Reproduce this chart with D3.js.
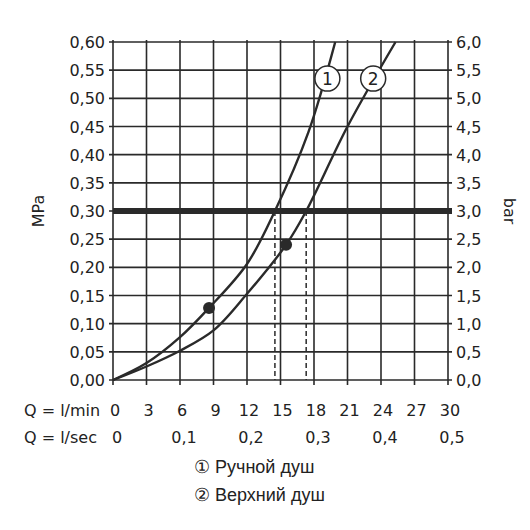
<!DOCTYPE html>
<html><head><meta charset="utf-8">
<script src="https://cdn.jsdelivr.net/npm/d3@7"></script>
<style>body{margin:0;background:#fff}text{fill:#222}</style>
</head><body><svg width="530" height="530"></svg>
<script>
// curve 1: hand shower, curve 2: overhead shower (Q l/min, MPa)
var curve1 = [[0,0],[3,0.03],[6,0.076],[8.6,0.128],[12,0.206],[14.5,0.30],[17.5,0.44],[19.9,0.60]];
var curve2 = [[0,0],[3,0.024],[6,0.052],[9,0.088],[12,0.153],[15.5,0.24],[17.3,0.30],[21,0.45],[25.3,0.60]];
var dots = [[8.6,0.128],[15.5,0.24]];
var dashes = [14.5,17.3];
var mpaTicks = d3.range(0,0.601,0.05);
var minTicks = d3.range(0,31,3);
var secTicks = [0,0.1,0.2,0.3,0.4,0.5];
var legend = ['① Ручной душ','② Верхний душ'];

var svg = d3.select('svg');
var x = d3.scaleLinear().domain([0,30]).range([113,448]);
var y = d3.scaleLinear().domain([0,0.6]).range([380,42]);
var fmt = function(v, d){ return v.toFixed(d).replace('.', ','); };
var ink = '#2a2a2a';

svg.selectAll('.vg').data(minTicks).enter().append('line')
  .attr('x1', d => x(d)).attr('x2', d => x(d)).attr('y1', y(0)).attr('y2', y(0.6) - 2)
  .attr('stroke', ink).attr('stroke-width', 1.6);
svg.selectAll('.hg').data(mpaTicks).enter().append('line')
  .attr('x1', x(0) - 4).attr('x2', x(30) + 4).attr('y1', d => y(d)).attr('y2', d => y(d))
  .attr('stroke', ink).attr('stroke-width', 1.6);
svg.selectAll('.bt').data(minTicks).enter().append('line')
  .attr('x1', d => x(d)).attr('x2', d => x(d)).attr('y1', y(0)).attr('y2', y(0) + 5)
  .attr('stroke', ink).attr('stroke-width', 1.6);

// 3 bar line
svg.append('line').attr('x1', x(0)).attr('x2', x(30) + 4).attr('y1', y(0.3)).attr('y2', y(0.3))
  .attr('stroke', ink).attr('stroke-width', 6);

svg.selectAll('.ds').data(dashes).enter().append('line')
  .attr('x1', d => x(d)).attr('x2', d => x(d)).attr('y1', y(0.3)).attr('y2', y(0))
  .attr('stroke', ink).attr('stroke-width', 1.5).attr('stroke-dasharray', '5,3');

var line = d3.line().x(d => x(d[0])).y(d => y(d[1])).curve(d3.curveCatmullRom);
[curve1, curve2].forEach(function(c){
  svg.append('path').attr('d', line(c)).attr('fill', 'none').attr('stroke', ink).attr('stroke-width', 2.4);
});
svg.selectAll('.dot').data(dots).enter().append('circle')
  .attr('cx', d => x(d[0])).attr('cy', d => y(d[1])).attr('r', 6).attr('fill', ink);

[[19.2,'1'],[23.3,'2']].forEach(function(l){
  svg.append('circle').attr('cx', x(l[0])).attr('cy', y(0.535)).attr('r', 12.5)
    .attr('fill', '#fff').attr('stroke', ink).attr('stroke-width', 1.5);
  svg.append('text').attr('x', x(l[0])).attr('y', y(0.535) + 6).attr('text-anchor', 'middle')
    .attr('font-family', 'DejaVu Sans').attr('font-size', 17).text(l[1]);
});

var f = {'font-family': 'DejaVu Sans', 'font-size': 16};
function styl(s){ for (var k in f) s.attr(k, f[k]); return s; }
styl(svg.selectAll('.ly').data(mpaTicks).enter().append('text')
  .attr('x', x(0) - 8).attr('y', d => y(d) + 6).attr('text-anchor', 'end').text(d => fmt(d, 2)));
styl(svg.selectAll('.ry').data(mpaTicks).enter().append('text')
  .attr('x', x(30) + 8).attr('y', d => y(d) + 6).text(d => fmt(d * 10, 1)));
styl(svg.selectAll('.bx').data(minTicks).enter().append('text')
  .attr('x', d => x(d) + 2).attr('y', 416).attr('text-anchor', 'middle').text(d => d));
styl(svg.selectAll('.sx').data(secTicks).enter().append('text')
  .attr('x', d => x(d * 60) + 4).attr('y', 443).attr('text-anchor', 'middle').text(d => d === 0 ? '0' : fmt(d, 1)));
styl(svg.append('text').attr('x', 24).attr('y', 416).text('Q = l/min'));
styl(svg.append('text').attr('x', 24).attr('y', 443).text('Q = l/sec'));
styl(svg.append('text').attr('transform', 'translate(44,' + y(0.3) + ') rotate(-90)')
  .attr('text-anchor', 'middle').text('MPa'));
styl(svg.append('text').attr('transform', 'translate(504,' + y(0.3) + ') rotate(90)')
  .attr('text-anchor', 'middle').text('bar'));
svg.selectAll('.lg').data(legend).enter().append('text')
  .attr('x', 194).attr('y', (d, i) => 473 + i * 28)
  .attr('font-family', 'Liberation Sans').attr('font-size', 18).text(d => d);
</script></body></html>
